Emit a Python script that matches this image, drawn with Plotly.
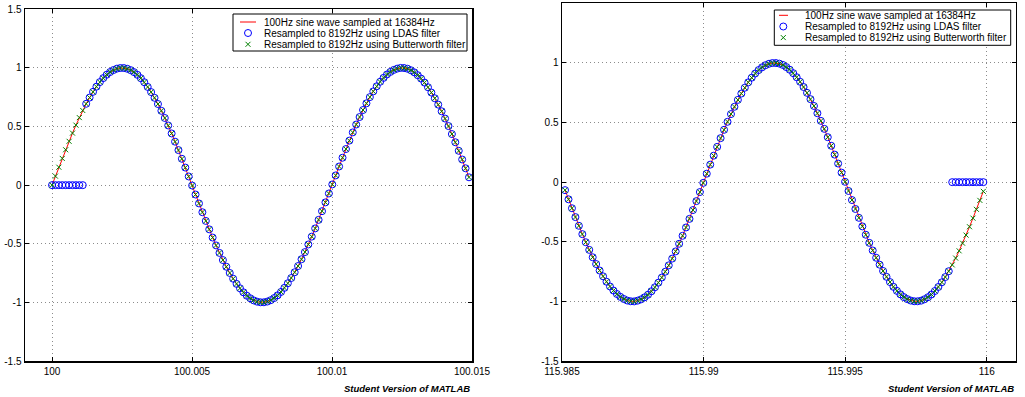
import numpy as np
import plotly.graph_objects as go

# ---------------- data ----------------
FS_RESAMPLED = 8192
LEFT_START = 100.0
RIGHT_END = 116.0

# sine values at the 8192 Hz sample instants, window starting at t = 100 s
left_values = [
    0.000, 0.077, 0.153, 0.228, 0.302, 0.374, 0.444, 0.512, 0.576, 0.637,
    0.694, 0.747, 0.796, 0.840, 0.879, 0.913, 0.942, 0.965, 0.982, 0.994,
    0.999, 0.999, 0.993, 0.981, 0.964, 0.941, 0.912, 0.878, 0.838, 0.794,
    0.745, 0.692, 0.634, 0.573, 0.509, 0.441, 0.371, 0.299, 0.225, 0.150,
    0.074, -0.003, -0.080, -0.156, -0.231, -0.305, -0.377, -0.447, -0.514, -0.578,
    -0.639, -0.696, -0.749, -0.798, -0.842, -0.880, -0.914, -0.943, -0.965, -0.983,
    -0.994, -0.999, -0.999, -0.993, -0.981, -0.963, -0.940, -0.911, -0.876, -0.837,
    -0.792, -0.743, -0.690, -0.632, -0.571, -0.506, -0.439, -0.369, -0.296, -0.222,
    -0.147, -0.071, 0.006, 0.083, 0.159, 0.234, 0.308, 0.380, 0.450, 0.517,
    0.581, 0.641, 0.698, 0.751, 0.800, 0.843, 0.882, 0.915, 0.944, 0.966,
    0.983, 0.994, 1.000, 0.999, 0.993, 0.980, 0.962, 0.938, 0.909, 0.875,
    0.835, 0.790, 0.741, 0.687, 0.630, 0.568, 0.504, 0.436, 0.366, 0.293,
    0.219, 0.144, 0.067,
]

# sine values at the 8192 Hz sample instants, window ending just before t = 116 s
right_values = [
    -0.067, -0.144, -0.219, -0.293, -0.366, -0.436, -0.504, -0.568, -0.630, -0.687,
    -0.741, -0.790, -0.835, -0.875, -0.909, -0.938, -0.962, -0.980, -0.993, -0.999,
    -1.000, -0.994, -0.983, -0.966, -0.944, -0.915, -0.882, -0.843, -0.800, -0.751,
    -0.698, -0.641, -0.581, -0.517, -0.450, -0.380, -0.308, -0.234, -0.159, -0.083,
    -0.006, 0.071, 0.147, 0.222, 0.296, 0.369, 0.439, 0.506, 0.571, 0.632,
    0.690, 0.743, 0.792, 0.837, 0.876, 0.911, 0.940, 0.963, 0.981, 0.993,
    0.999, 0.999, 0.994, 0.983, 0.965, 0.943, 0.914, 0.880, 0.842, 0.798,
    0.749, 0.696, 0.639, 0.578, 0.514, 0.447, 0.377, 0.305, 0.231, 0.156,
    0.080, 0.003, -0.074, -0.150, -0.225, -0.299, -0.371, -0.441, -0.509, -0.573,
    -0.634, -0.692, -0.745, -0.794, -0.838, -0.878, -0.912, -0.941, -0.964, -0.981,
    -0.993, -0.999, -0.999, -0.994, -0.982, -0.965, -0.942, -0.913, -0.879, -0.840,
    -0.796, -0.747, -0.694, -0.637, -0.576, -0.512, -0.444, -0.374, -0.302, -0.228,
    -0.153, -0.077,
]

# LDAS output: zero during the filter start-up / at the end of the data
ldas_left = [0.0] * 10 + left_values[10:]
ldas_right = right_values[:-10] + [0.0] * 10
butter_left = left_values
butter_right = right_values

t_left = LEFT_START + np.arange(len(left_values)) / FS_RESAMPLED
t_right = RIGHT_END - np.arange(len(right_values), 0, -1) / FS_RESAMPLED

legend_labels = [
    "100Hz sine wave sampled at 16384Hz",
    "Resampled to 8192Hz using LDAS filter",
    "Resampled to 8192Hz using Butterworth filter",
]
left_xticks = [100, 100.005, 100.01, 100.015]
left_xtext = ["100", "100.005", "100.01", "100.015"]
right_xticks = [115.985, 115.99, 115.995, 116]
right_xtext = ["115.985", "115.99", "115.995", "116"]
yticks = [-1.5, -1, -0.5, 0, 0.5, 1, 1.5]
ytext = ["-1.5", "-1", "-0.5", "0", "0.5", "1", "1.5"]
watermark = "Student Version of MATLAB"

# ---------------- style / page geometry ----------------
FONT = "Liberation Sans, Arial, Helvetica, sans-serif"
RED = "#ff0000"
BLUE = "#0000ff"
GREEN = "#008000"
W, H = 1025, 397


def dom_x(p0, p1):
    return [p0 / W, p1 / W]


def dom_y(top, bottom):
    return [(H - bottom) / H, (H - top) / H]


fig = go.Figure()


def add_series(t, line_vals, ldas_vals, butter_vals, xa, ya):
    fig.add_trace(go.Scatter(x=t, y=line_vals, mode="lines",
                             line=dict(color=RED, width=1),
                             xaxis=xa, yaxis=ya, showlegend=False, hoverinfo="skip"))
    fig.add_trace(go.Scatter(x=t, y=ldas_vals, mode="markers",
                             marker=dict(symbol="circle-open", size=7, color=BLUE,
                                         line=dict(width=1, color=BLUE)),
                             xaxis=xa, yaxis=ya, showlegend=False, hoverinfo="skip"))
    fig.add_trace(go.Scatter(x=t, y=butter_vals, mode="markers",
                             marker=dict(symbol="x-thin-open", size=5, color=GREEN,
                                         line=dict(width=1, color=GREEN)),
                             xaxis=xa, yaxis=ya, showlegend=False, hoverinfo="skip"))


add_series(t_left, left_values, ldas_left, butter_left, "x", "y")
add_series(t_right, right_values, ldas_right, butter_right, "x2", "y2")

axis_common = dict(
    showgrid=True, gridcolor="#8c8c8c", griddash="1px,3px", gridwidth=1,
    zeroline=False, showline=True, linecolor="black", linewidth=1.5,
    mirror="ticks", ticks="inside", ticklen=4, tickwidth=1, tickcolor="black",
    tickfont=dict(family=FONT, size=10, color="black"), fixedrange=True,
    automargin=False,
)

fig.update_layout(
    template="none",
    xaxis=dict(domain=dom_x(25, 472), range=[LEFT_START - 27 / 28000, 100.015],
               tickmode="array", tickvals=left_xticks, ticktext=left_xtext,
               anchor="y", **axis_common),
    yaxis=dict(domain=dom_y(9.3, 361), range=[-1.5, 1.5], tickmode="array",
               tickvals=yticks, ticktext=ytext, anchor="x", **axis_common),
    xaxis2=dict(domain=dom_x(562, 1015.5), range=[115.985, RIGHT_END + 0.001014],
                tickmode="array", tickvals=right_xticks, ticktext=right_xtext,
                anchor="y2", **axis_common),
    yaxis2=dict(domain=dom_y(3.3, 361), range=[-1.5, 1.5], tickmode="array",
                tickvals=yticks, ticktext=ytext, anchor="x2", **axis_common),
    # overlay in figure pixel units, used for the legend boxes and watermark
    xaxis3=dict(domain=[0, 1], range=[0, W], visible=False, fixedrange=True,
                anchor="y3", automargin=False),
    yaxis3=dict(domain=[0, 1], range=[H, 0], visible=False, fixedrange=True,
                anchor="x3", automargin=False),
    width=W, height=H,
    margin=dict(l=0, r=0, t=0, b=0, pad=0),
    paper_bgcolor="white", plot_bgcolor="rgba(0,0,0,0)",
    showlegend=False,
    font=dict(family=FONT, size=10, color="black"),
)

# ---------------- custom legends ----------------
legend_specs = [
    dict(box=(233, 467, 14, 51), line=(240, 256), sym=248, tx=262, rows=(22, 33, 44.3)),
    dict(box=(774.3, 1010.7, 10, 45.3), line=(779, 788), sym=783.3, tx=803, rows=(15.3, 26.5, 37.6)),
]
for spec in legend_specs:
    bx0, bx1, by0, by1 = spec["box"]
    fig.add_trace(go.Scatter(x=[bx0, bx1, bx1, bx0, bx0], y=[by0, by0, by1, by1, by0],
                             mode="lines", fill="toself", fillcolor="white",
                             line=dict(color="black", width=1),
                             xaxis="x3", yaxis="y3", showlegend=False, hoverinfo="skip"))
    r0, r1, r2 = spec["rows"]
    lx0, lx1 = spec["line"]
    fig.add_trace(go.Scatter(x=[lx0, lx1], y=[r0, r0], mode="lines",
                             line=dict(color=RED, width=1),
                             xaxis="x3", yaxis="y3", showlegend=False, hoverinfo="skip"))
    fig.add_trace(go.Scatter(x=[spec["sym"]], y=[r1], mode="markers",
                             marker=dict(symbol="circle-open", size=7, color=BLUE,
                                         line=dict(width=1, color=BLUE)),
                             xaxis="x3", yaxis="y3", showlegend=False, hoverinfo="skip"))
    fig.add_trace(go.Scatter(x=[spec["sym"]], y=[r2], mode="markers",
                             marker=dict(symbol="x-thin-open", size=5, color=GREEN,
                                         line=dict(width=1, color=GREEN)),
                             xaxis="x3", yaxis="y3", showlegend=False, hoverinfo="skip"))
    for label, ry in zip(legend_labels, spec["rows"]):
        fig.add_annotation(x=spec["tx"], y=ry, xref="x3", yref="y3", text=label,
                           showarrow=False, xanchor="left", yanchor="middle",
                           font=dict(family=FONT, size=10, color="black"))

# watermark texts, right-aligned with each axes box
for xr in ("x domain", "x2 domain"):
    fig.add_annotation(x=1, y=388, xref=xr, yref="y3",
                       text="<b><i>" + watermark + "</i></b>",
                       showarrow=False, xanchor="right", yanchor="middle",
                       font=dict(family=FONT, size=9.5, color="black"))

# the page's default 8px body margin would shift the figure; remove it
fig.write_html("out.html", config={"displayModeBar": False, "staticPlot": True},
               post_script="document.body.style.margin='0px';")
